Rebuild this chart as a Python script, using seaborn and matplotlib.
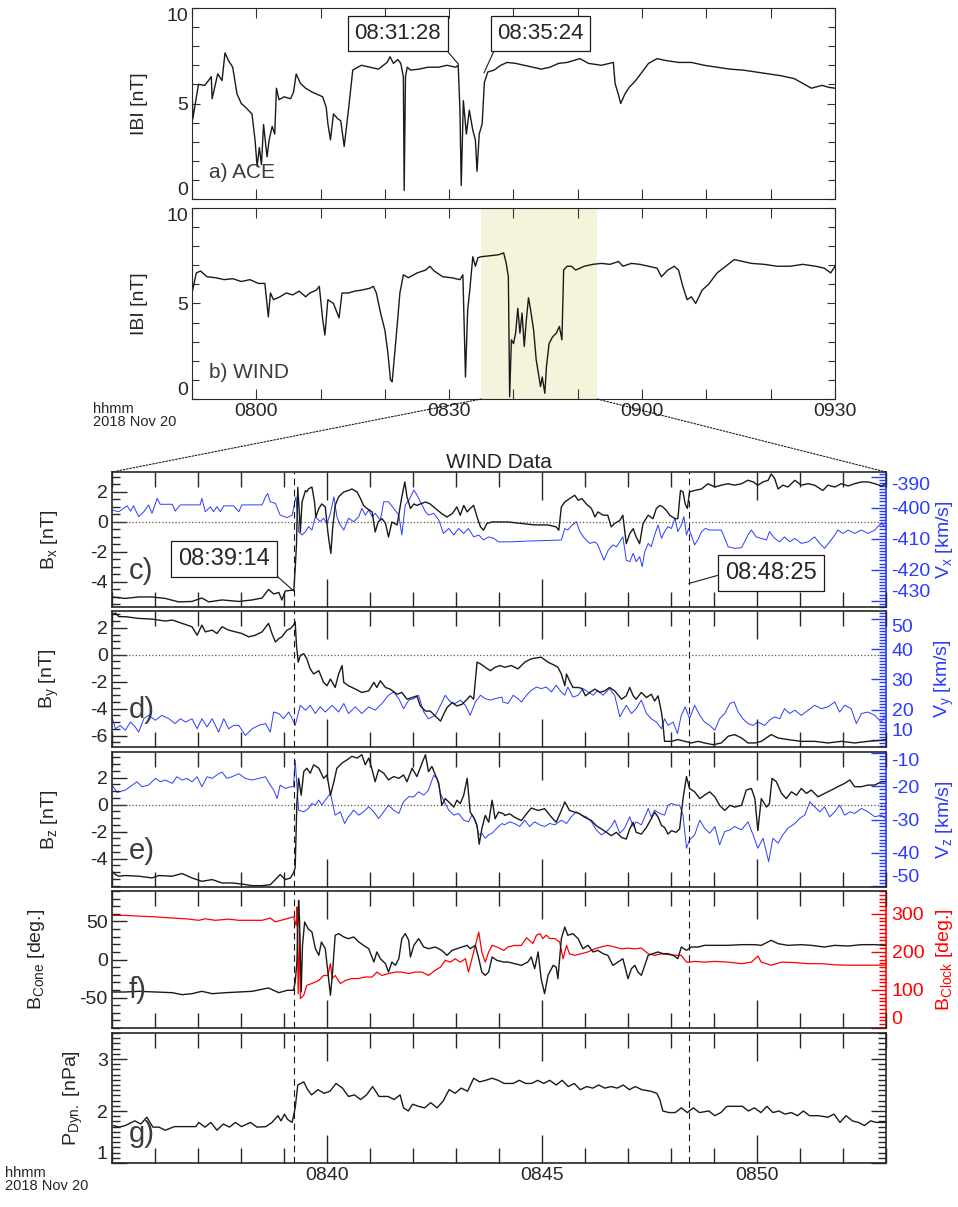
import numpy as np
import pandas as pd
import matplotlib
matplotlib.use("Agg")
import matplotlib.pyplot as plt
import matplotlib.dates as mdates
from matplotlib.ticker import MultipleLocator, FixedLocator
from matplotlib.patches import ConnectionPatch
import seaborn as sns

# ---------------- data ----------------
# panels a/b : minutes after 07:50 UT, |B| in nT
ace_min = [0.00, 0.13, 1.00, 2.00, 3.00, 3.13, 4.00, 4.67, 5.13, 5.67,
           6.33, 7.00, 7.67, 8.33, 9.33, 9.80, 10.13, 10.47, 10.80, 11.13,
           11.67, 12.00, 12.47, 12.87, 13.13, 13.53, 14.33, 15.33, 15.80, 16.20,
           16.87, 17.67, 18.67, 19.67, 20.33, 20.87, 21.13, 21.53, 22.00, 22.67,
           23.13, 23.67, 24.33, 25.00, 26.33, 27.67, 29.00, 30.33, 30.80, 31.33,
           32.00, 32.47, 32.87, 33.00, 33.20, 33.47, 34.00, 35.33, 36.67, 38.33,
           39.67, 41.00, 41.40, 41.67, 41.87, 42.20, 42.67, 43.13, 43.67, 44.07,
           44.33, 44.67, 45.13, 45.47, 46.00, 47.00, 48.00, 49.00, 50.33, 51.67,
           53.00, 54.33, 55.67, 57.00, 58.33, 60.33, 61.67, 63.67, 65.53, 65.80,
           66.33, 66.67, 67.33, 68.00, 69.00, 70.00, 71.00, 72.33, 73.67, 75.67,
           77.67, 79.67, 81.67, 83.67, 85.67, 87.67, 89.67, 91.67, 93.67, 95.00,
           96.33, 98.00, 99.00, 100.00]
ace_b = [5.9, 4.2, 6.0, 5.95, 6.4, 5.25, 6.55, 6.2, 7.65, 7.25,
         6.9, 5.5, 5.0, 4.8, 4.45, 3.1, 1.7, 2.7, 1.8, 3.9,
         2.2, 3.1, 3.8, 3.4, 5.8, 5.2, 5.35, 5.25, 5.6, 6.55,
         6.05, 5.8, 5.6, 5.45, 5.35, 4.8, 3.95, 3.1, 4.45, 4.2,
         4.1, 2.75, 4.65, 6.75, 7.0, 6.9, 6.8, 7.15, 7.45, 7.1,
         7.3, 7.1, 6.4, 0.45, 6.4, 6.9, 6.75, 6.8, 6.9, 6.9,
         7.0, 6.9, 7.0, 4.65, 0.7, 5.15, 3.4, 4.65, 3.6, 3.1,
         1.45, 3.4, 3.95, 6.1, 6.65, 6.75, 7.0, 7.15, 7.1, 7.0,
         6.9, 6.8, 6.9, 7.1, 7.15, 7.35, 7.1, 7.0, 7.15, 6.05,
         5.45, 5.0, 5.5, 5.85, 6.2, 6.65, 7.1, 7.35, 7.25, 7.15,
         7.15, 7.0, 6.9, 6.8, 6.75, 6.65, 6.55, 6.45, 6.3, 6.05,
         5.8, 5.95, 5.85, 5.8]

wind_min = [0.00, 0.67, 1.33, 2.33, 3.67, 5.00, 6.33, 7.67, 9.00, 10.33,
            11.33, 11.87, 12.20, 12.67, 13.67, 14.67, 15.67, 16.67, 17.67, 18.33,
            19.33, 19.80, 20.33, 20.67, 21.13, 22.00, 22.87, 23.33, 24.33, 25.33,
            26.33, 27.67, 28.20, 28.67, 29.33, 30.00, 30.47, 30.87, 31.13, 31.87,
            32.33, 32.87, 33.67, 35.00, 36.33, 37.00, 37.67, 39.00, 40.33, 41.67,
            42.13, 42.53, 42.87, 43.20, 43.67, 44.07, 44.47, 45.00, 46.33, 47.67,
            48.47, 48.87, 49.20, 49.40, 49.67, 50.00, 50.33, 50.67, 51.00, 51.33,
            51.67, 52.00, 52.33, 52.67, 53.13, 53.53, 53.87, 54.20, 54.47, 54.87,
            55.13, 55.53, 56.07, 56.67, 57.13, 57.53, 57.80, 58.33, 59.00, 59.67,
            61.00, 62.33, 63.67, 65.00, 66.33, 67.00, 68.33, 69.67, 71.00, 72.33,
            73.00, 74.00, 75.00, 75.67, 76.33, 77.00, 77.67, 78.33, 79.33, 80.33,
            81.67, 83.00, 84.33, 85.67, 87.00, 89.00, 91.00, 93.00, 95.00, 97.00,
            98.33, 99.33, 100.00]
wind_b = [5.55, 6.6, 6.7, 6.4, 6.35, 6.25, 6.3, 6.15, 6.25, 6.05,
          6.05, 4.3, 5.55, 5.2, 5.35, 5.55, 5.45, 5.65, 5.35, 5.55,
          5.7, 5.9, 4.15, 3.35, 5.2, 5.0, 4.25, 5.55, 5.55, 5.65,
          5.7, 5.8, 5.9, 5.55, 4.5, 3.6, 2.4, 1.0, 0.9, 3.7,
          5.55, 6.5, 6.35, 6.6, 6.75, 6.95, 6.7, 6.4, 6.35, 6.25,
          6.5, 1.15, 4.65, 5.7, 7.45, 6.95, 7.4, 7.45, 7.5, 7.55,
          7.65, 7.1, 6.4, 0.12, 3.1, 2.9, 3.45, 4.75, 3.45, 4.5,
          2.75, 4.15, 5.3, 4.65, 3.6, 2.05, 1.35, 0.65, 1.15, 0.3,
          1.7, 2.9, 3.25, 3.45, 3.8, 3.1, 6.75, 6.95, 6.95, 6.75,
          6.95, 7.05, 7.1, 7.05, 7.2, 6.95, 7.1, 7.05, 6.95, 6.85,
          6.4, 6.75, 6.95, 6.75, 5.9, 5.2, 5.35, 5.0, 5.7, 6.0,
          6.6, 6.95, 7.3, 7.2, 7.1, 7.05, 6.95, 6.95, 7.05, 6.95,
          6.85, 6.6, 6.95]

# panels c-g : minutes after 08:35 UT
bx_min = [0.00, 0.31, 0.62, 0.93, 1.24, 1.55, 1.86, 2.09, 2.25, 2.56,
          2.95, 3.26, 3.49, 3.64, 3.76, 3.88, 3.95, 4.03, 4.19, 4.23,
          4.26, 4.29, 4.32, 4.36, 4.38, 4.42, 4.50, 4.53, 4.57, 4.65,
          4.71, 4.74, 4.81, 4.88, 4.96, 5.02, 5.05, 5.09, 5.13, 5.19,
          5.27, 5.39, 5.50, 5.58, 5.70, 5.78, 5.85, 5.93, 6.05, 6.12,
          6.19, 6.28, 6.36, 6.43, 6.51, 6.63, 6.74, 6.81, 6.86, 6.94,
          7.02, 7.09, 7.17, 7.29, 7.40, 7.52, 7.67, 7.79, 7.91, 8.02,
          8.10, 8.18, 8.26, 8.33, 8.41, 8.49, 8.57, 8.64, 8.72, 8.84,
          8.99, 9.21, 9.52, 9.83, 10.14, 10.33, 10.39, 10.45, 10.53, 10.64,
          10.76, 10.84, 10.93, 11.03, 11.15, 11.23, 11.30, 11.42, 11.53, 11.61,
          11.69, 11.81, 11.88, 11.96, 12.04, 12.12, 12.19, 12.27, 12.35, 12.47,
          12.58, 12.66, 12.74, 12.81, 12.89, 12.97, 13.09, 13.16, 13.22, 13.28,
          13.33, 13.38, 13.43, 13.55, 13.71, 13.86, 14.02, 14.17, 14.33, 14.48,
          14.64, 14.79, 14.91, 15.02, 15.14, 15.26, 15.33, 15.41, 15.49, 15.60,
          15.72, 15.88, 16.03, 16.19, 16.34, 16.53, 16.65, 16.81, 16.96, 17.12,
          17.27, 17.43, 17.58, 17.74, 17.89, 17.98]
bx_nt = [-5.0, -5.1, -5.0, -5.0, -5.1, -5.33, -5.3, -5.07, -5.33, -5.2,
         -5.3, -5.2, -5.07, -4.5, -4.8, -4.7, -5.2, -4.6, -4.55, -4.5,
         -3.1, -1.55, 2.3, 0.45, -0.67, 1.33, 2.1, 2.0, 2.2, 2.33,
         1.33, 0.33, 0.9, 1.2, 1.0, -0.67, -1.33, -2.1, -0.45, 1.1,
         1.67, 2.0, 2.1, 2.2, 2.0, 1.55, 1.1, 0.9, 0.67, -0.67,
         0.0, 0.22, -0.1, -1.0, 0.0, -0.2, 1.67, 2.67, 1.67, 0.9,
         1.2, 1.1, 1.2, 1.33, 1.2, 0.9, 0.55, 0.33, 0.55, 1.0,
         0.45, 1.1, 0.67, 0.9, 1.1, 0.33, -0.33, -0.55, -0.1, 0.0,
         0.0, 0.0, -0.1, -0.2, -0.2, -0.33, -0.55, 1.0, 1.33, 1.55,
         1.78, 1.45, 1.55, 1.2, 0.9, 0.33, 0.67, 0.45, 0.45, -0.33,
         -0.1, 0.1, 0.45, -1.45, -0.78, -0.45, -1.0, -1.45, -0.1, 0.45,
         0.22, 0.9, 1.1, 1.0, 0.78, 0.45, 0.22, 0.22, 2.1, 2.0,
         1.2, 0.9, 2.0, 2.1, 2.2, 2.55, 2.33, 2.45, 2.55, 2.45,
         2.55, 2.78, 2.67, 2.45, 2.67, 2.78, 3.2, 2.9, 2.2, 2.45,
         2.33, 2.78, 2.45, 2.55, 2.45, 2.1, 2.45, 2.33, 2.55, 2.4,
         2.55, 2.67, 2.67, 2.55, 2.4, 2.5]

vx_min = [0.00, 0.16, 0.27, 0.35, 0.43, 0.50, 0.62, 0.74, 0.85, 0.93,
          1.05, 1.12, 1.40, 1.47, 1.59, 2.05, 2.09, 2.17, 2.29, 2.36,
          2.44, 2.52, 2.60, 2.83, 2.95, 3.02, 3.49, 3.57, 3.62, 3.68,
          3.80, 3.91, 4.07, 4.19, 4.25, 4.28, 4.34, 4.42, 4.50, 4.57,
          4.65, 4.73, 4.84, 4.92, 5.00, 5.08, 5.16, 5.23, 5.31, 5.39,
          5.50, 5.62, 5.74, 5.81, 5.89, 5.97, 6.05, 6.12, 6.24, 6.32,
          6.43, 6.55, 6.67, 6.74, 6.82, 6.91, 7.02, 7.09, 7.17, 7.29,
          7.36, 7.48, 7.60, 7.71, 7.83, 7.95, 8.06, 8.18, 8.29, 8.41,
          8.53, 8.64, 8.76, 8.88, 8.99, 9.05, 9.29, 9.67, 10.06, 10.45,
          10.53, 10.60, 10.70, 10.80, 10.88, 10.99, 11.11, 11.23, 11.30, 11.44,
          11.54, 11.65, 11.73, 11.81, 11.88, 11.96, 12.04, 12.12, 12.19, 12.27,
          12.33, 12.39, 12.47, 12.54, 12.62, 12.70, 12.78, 12.85, 12.93, 13.01,
          13.09, 13.16, 13.24, 13.30, 13.36, 13.41, 13.47, 13.55, 13.64, 13.71,
          13.80, 13.90, 14.17, 14.33, 14.48, 14.64, 14.79, 14.87, 14.98, 15.10,
          15.22, 15.29, 15.41, 15.53, 15.64, 15.76, 15.88, 16.03, 16.19, 16.34,
          16.46, 16.57, 16.69, 16.81, 16.88, 17.00, 17.12, 17.27, 17.43, 17.58,
          17.74, 17.81, 17.89, 17.98]
vx_kms = [-400.75, -401.3, -400.2, -399.4, -401.1, -399.4, -402.9, -401.3, -399.1, -401.8,
          -397.0, -398.9, -398.9, -401.1, -399.1, -399.1, -397.0, -401.3, -399.7, -401.3,
          -399.7, -401.3, -399.4, -399.4, -401.3, -399.1, -399.1, -396.5, -395.4, -398.1,
          -398.6, -402.4, -403.2, -402.4, -398.1, -396.5, -407.7, -408.8, -407.7, -406.1,
          -407.2, -402.9, -404.5, -403.4, -405.1, -401.8, -396.5, -402.9, -405.6, -407.2,
          -403.4, -404.5, -402.9, -400.2, -402.4, -400.75, -402.9, -401.8, -404.0, -398.1,
          -398.1, -400.2, -402.4, -408.8, -399.1, -397.5, -394.3, -395.9, -398.1, -401.3,
          -402.4, -401.8, -404.0, -408.3, -406.7, -408.8, -406.7, -408.3, -406.7, -409.4,
          -408.8, -410.4, -409.4, -409.9, -411.0, -411.0, -411.0, -410.75, -410.6, -410.4,
          -406.7, -407.2, -405.6, -404.5, -407.7, -409.9, -411.5, -411.0, -412.0, -416.9,
          -413.7, -412.0, -412.6, -411.0, -409.4, -416.9, -417.4, -414.7, -417.4, -415.8,
          -419.0, -414.2, -411.5, -412.6, -408.8, -405.6, -409.9, -407.7, -406.1, -406.7,
          -403.4, -407.7, -405.6, -402.9, -408.8, -406.7, -408.8, -412.0, -409.9, -407.7,
          -406.7, -407.2, -407.2, -412.6, -413.1, -412.9, -408.8, -407.2, -409.4, -409.9,
          -410.4, -407.7, -409.9, -411.0, -409.4, -411.0, -409.9, -411.5, -411.0, -409.4,
          -411.5, -413.1, -411.0, -408.8, -407.2, -408.3, -407.2, -408.3, -407.2, -408.3,
          -407.2, -406.1, -405.1, -406.1]

by_min = [0.00, 0.08, 0.16, 0.31, 0.62, 0.93, 1.24, 1.40, 1.63, 1.86,
          1.98, 2.09, 2.17, 2.33, 2.44, 2.56, 2.71, 2.87, 3.02, 3.18,
          3.33, 3.49, 3.64, 3.72, 3.80, 3.88, 3.95, 4.07, 4.15, 4.22,
          4.26, 4.29, 4.33, 4.38, 4.46, 4.53, 4.61, 4.69, 4.81, 4.92,
          5.00, 5.08, 5.19, 5.27, 5.35, 5.39, 5.50, 5.66, 5.81, 5.97,
          6.09, 6.16, 6.24, 6.36, 6.47, 6.63, 6.74, 6.86, 6.98, 7.09,
          7.17, 7.29, 7.40, 7.52, 7.64, 7.71, 7.79, 7.91, 8.02, 8.14,
          8.26, 8.33, 8.41, 8.49, 8.57, 8.68, 8.80, 8.91, 9.03, 9.13,
          9.29, 9.44, 9.60, 9.75, 9.98, 10.14, 10.30, 10.37, 10.45, 10.53,
          10.57, 10.64, 10.72, 10.84, 10.93, 11.01, 11.11, 11.23, 11.34, 11.46,
          11.57, 11.69, 11.85, 11.96, 12.04, 12.12, 12.19, 12.31, 12.43, 12.54,
          12.62, 12.70, 12.78, 12.81, 12.85, 13.01, 13.16, 13.32, 13.47, 13.63,
          13.78, 13.98, 14.17, 14.33, 14.48, 14.64, 14.79, 14.95, 15.10, 15.33,
          15.49, 15.72, 16.03, 16.34, 16.65, 16.96, 17.27, 17.58, 17.89, 17.98]
by_nt = [2.95, 3.1, 2.83, 2.83, 2.7, 2.65, 2.5, 2.58, 2.33, 2.08,
         1.45, 2.2, 1.7, 1.83, 1.58, 2.08, 1.83, 1.7, 1.58, 1.33,
         1.45, 1.7, 2.33, 1.58, 0.95, 1.2, 1.33, 1.83, 1.95, 2.2,
         2.45, 0.7, -0.55, -0.05, 0.08, -0.3, -1.05, -1.43, -1.18, -2.05,
         -2.3, -1.8, -2.43, -1.43, -0.8, -2.05, -2.3, -2.55, -2.8, -2.68,
         -2.05, -2.43, -1.93, -2.43, -2.55, -2.93, -2.8, -3.3, -3.18, -3.05,
         -3.8, -4.18, -4.18, -4.55, -4.93, -4.43, -3.93, -3.55, -3.8, -3.68,
         -3.3, -3.05, -3.3, -0.55, -0.68, -0.93, -1.18, -0.93, -0.8, -0.93,
         -0.8, -1.05, -0.55, -0.3, -0.18, -0.55, -0.8, -0.93, -1.43, -2.3,
         -1.43, -1.93, -2.43, -2.43, -2.5, -3.05, -2.8, -2.55, -2.8, -2.68,
         -2.43, -2.68, -3.3, -3.05, -2.43, -3.05, -3.3, -2.8, -3.18, -2.93,
         -3.43, -3.05, -4.3, -5.05, -6.43, -6.43, -6.3, -6.43, -6.55, -6.43,
         -6.55, -6.68, -6.55, -6.05, -5.93, -6.18, -6.55, -6.55, -6.43, -5.93,
         -6.18, -6.3, -6.43, -6.43, -6.55, -6.43, -6.55, -6.43, -6.35, -6.3]

vy_min = [0.00, 0.08, 0.19, 0.31, 0.43, 0.54, 0.62, 0.74, 0.85, 1.01,
          1.16, 1.32, 1.47, 1.59, 1.71, 1.86, 1.98, 2.09, 2.21, 2.33,
          2.48, 2.60, 2.71, 2.83, 2.95, 3.10, 3.26, 3.41, 3.57, 3.68,
          3.76, 3.88, 3.99, 4.11, 4.19, 4.26, 4.38, 4.50, 4.61, 4.73,
          4.84, 4.96, 5.12, 5.27, 5.39, 5.50, 5.66, 5.81, 5.97, 6.12,
          6.28, 6.43, 6.55, 6.67, 6.78, 6.90, 7.02, 7.13, 7.25, 7.36,
          7.52, 7.64, 7.75, 7.87, 7.98, 8.10, 8.22, 8.33, 8.45, 8.57,
          8.68, 8.80, 8.91, 9.07, 9.09, 9.21, 9.33, 9.44, 9.52, 9.64,
          9.75, 9.87, 9.98, 10.10, 10.22, 10.33, 10.45, 10.53, 10.60, 10.72,
          10.84, 10.95, 11.07, 11.19, 11.30, 11.42, 11.57, 11.69, 11.81, 11.96,
          12.08, 12.19, 12.31, 12.43, 12.54, 12.66, 12.78, 12.85, 12.93, 13.05,
          13.15, 13.24, 13.33, 13.43, 13.55, 13.67, 13.78, 13.90, 14.02, 14.13,
          14.25, 14.37, 14.47, 14.56, 14.67, 14.79, 14.91, 15.02, 15.18, 15.29,
          15.41, 15.53, 15.64, 15.76, 15.88, 16.03, 16.19, 16.34, 16.50, 16.65,
          16.81, 16.92, 17.04, 17.19, 17.31, 17.43, 17.58, 17.74, 17.89, 17.98]
vy_kms = [17.7, 13.8, 14.9, 13.3, 16.0, 14.4, 12.7, 17.1, 18.2, 16.6,
          18.2, 17.1, 15.5, 17.1, 16.0, 17.1, 13.8, 17.1, 14.4, 17.1,
          12.7, 17.1, 13.8, 14.9, 14.9, 11.6, 13.8, 14.9, 15.5, 12.7,
          19.3, 18.8, 17.1, 19.3, 17.1, 14.9, 21.5, 19.9, 21.5, 18.8,
          21.0, 19.3, 21.5, 19.3, 22.1, 18.8, 21.0, 18.8, 21.0, 19.9,
          22.1, 24.8, 25.9, 23.7, 20.4, 23.2, 23.7, 24.8, 19.3, 17.1,
          18.2, 21.5, 24.8, 22.6, 22.1, 23.2, 21.5, 18.2, 22.6, 24.8,
          23.7, 23.2, 23.7, 24.2, 22.6, 22.1, 24.8, 23.7, 22.6, 24.8,
          26.4, 27.5, 27.0, 27.5, 25.9, 28.1, 25.9, 24.8, 27.5, 24.2,
          24.8, 27.0, 25.9, 24.8, 26.4, 24.8, 27.0, 24.8, 17.7, 21.5,
          18.8, 20.4, 23.2, 18.8, 17.1, 16.0, 13.8, 17.1, 14.9, 16.0,
          12.2, 18.2, 21.0, 17.1, 21.5, 18.2, 16.0, 14.9, 13.3, 17.1,
          18.8, 22.1, 22.6, 19.3, 17.1, 15.5, 14.9, 16.0, 14.9, 16.6,
          17.7, 17.1, 20.4, 18.8, 19.9, 18.2, 19.9, 21.5, 20.4, 21.0,
          22.6, 19.3, 21.5, 20.4, 15.5, 18.8, 19.3, 18.2, 16.0, 18.2]

bz_min = [0.00, 0.08, 0.16, 0.31, 0.62, 0.93, 1.09, 1.40, 1.63, 1.86,
          2.09, 2.33, 2.56, 2.79, 3.02, 3.26, 3.49, 3.68, 3.80, 3.91,
          4.03, 4.15, 4.22, 4.26, 4.30, 4.34, 4.40, 4.46, 4.53, 4.61,
          4.69, 4.81, 4.92, 5.00, 5.08, 5.16, 5.23, 5.35, 5.47, 5.58,
          5.70, 5.81, 5.89, 5.97, 6.05, 6.12, 6.20, 6.32, 6.43, 6.55,
          6.67, 6.78, 6.86, 6.98, 7.09, 7.21, 7.29, 7.36, 7.44, 7.52,
          7.60, 7.67, 7.75, 7.87, 7.95, 8.02, 8.10, 8.18, 8.26, 8.33,
          8.41, 8.49, 8.54, 8.60, 8.68, 8.76, 8.84, 8.91, 8.99, 9.11,
          9.13, 9.25, 9.36, 9.52, 9.64, 9.75, 9.91, 10.06, 10.22, 10.33,
          10.45, 10.53, 10.64, 10.76, 10.88, 10.99, 11.15, 11.26, 11.38, 11.50,
          11.61, 11.73, 11.85, 11.96, 12.04, 12.12, 12.19, 12.31, 12.43, 12.54,
          12.62, 12.70, 12.78, 12.85, 12.93, 13.01, 13.12, 13.20, 13.28, 13.36,
          13.43, 13.55, 13.67, 13.78, 13.90, 14.02, 14.13, 14.25, 14.37, 14.48,
          14.64, 14.75, 14.87, 14.95, 15.02, 15.10, 15.22, 15.29, 15.35, 15.45,
          15.57, 15.68, 15.80, 15.92, 16.03, 16.15, 16.26, 16.42, 16.57, 16.73,
          16.88, 17.04, 17.16, 17.27, 17.43, 17.58, 17.74, 17.89, 17.98]
bz_nt = [-4.93, -5.18, -5.3, -5.25, -5.3, -5.43, -5.25, -5.3, -5.1, -5.43,
         -5.68, -5.55, -5.8, -5.8, -5.88, -6.0, -6.0, -5.93, -5.55, -5.18,
         -5.55, -5.43, -5.05, -4.68, 0.2, 1.95, 0.7, 2.45, 2.7, 2.33,
         2.95, 2.7, 1.95, 2.2, 0.7, 1.7, 2.7, 3.08, 3.33, 3.58,
         3.45, 3.7, 2.95, 3.45, 2.58, 1.7, 2.58, 2.33, 1.83, 2.08,
         1.95, 2.2, 1.7, 2.7, 2.08, 3.08, 3.7, 2.45, 2.83, 2.2,
         1.58, -0.05, 0.45, 0.08, -0.18, 0.33, 0.08, 0.7, 1.95, -0.55,
         -0.93, -1.55, -2.93, -1.8, -0.8, -1.3, 0.33, -1.05, -0.55, -0.68,
         -0.8, -0.68, -0.93, -1.18, -0.68, -0.25, -0.43, -0.3, -0.93, -1.3,
         -0.43, 0.2, -0.43, -0.55, -0.68, -0.93, -1.18, -1.55, -1.8, -2.05,
         -2.3, -2.05, -2.43, -2.55, -1.8, -1.3, -2.05, -2.18, -1.68, -1.05,
         -0.55, -0.93, -1.55, -1.68, -2.18, -1.93, -2.05, -1.8, 0.45, 2.08,
         1.2, 0.95, 0.45, 0.7, 0.95, 0.58, -0.05, -0.43, -0.05, -0.18,
         -0.05, 1.08, 1.2, 0.45, -1.93, 0.45, -0.18, 0.08, 1.95, 1.7,
         0.83, 0.45, 0.95, 0.7, 1.2, 0.83, 1.08, 0.58, 0.83, 1.08,
         1.33, 1.58, 1.83, 1.33, 1.33, 1.45, 1.45, 1.7, 1.7]

vz_min = [0.00, 0.12, 0.31, 0.47, 0.58, 0.70, 0.85, 1.01, 1.12, 1.24,
          1.40, 1.51, 1.63, 1.74, 1.86, 1.98, 2.09, 2.21, 2.33, 2.48,
          2.56, 2.67, 2.79, 2.95, 3.10, 3.26, 3.41, 3.57, 3.68, 3.76,
          3.84, 3.91, 4.03, 4.15, 4.22, 4.26, 4.30, 4.34, 4.46, 4.57,
          4.65, 4.73, 4.81, 4.88, 4.96, 5.08, 5.19, 5.31, 5.41, 5.50,
          5.62, 5.74, 5.85, 5.97, 6.09, 6.20, 6.32, 6.43, 6.55, 6.67,
          6.78, 6.90, 7.02, 7.13, 7.25, 7.36, 7.48, 7.56, 7.64, 7.71,
          7.83, 7.95, 8.06, 8.18, 8.29, 8.37, 8.45, 8.53, 8.60, 8.68,
          8.76, 8.84, 8.95, 9.07, 9.13, 9.25, 9.36, 9.48, 9.60, 9.71,
          9.83, 9.95, 10.06, 10.18, 10.30, 10.45, 10.57, 10.68, 10.80, 10.91,
          11.03, 11.15, 11.26, 11.38, 11.50, 11.61, 11.69, 11.81, 11.92, 12.04,
          12.12, 12.19, 12.31, 12.39, 12.47, 12.54, 12.62, 12.74, 12.85, 12.93,
          13.01, 13.12, 13.20, 13.28, 13.36, 13.43, 13.55, 13.67, 13.78, 13.90,
          14.02, 14.13, 14.25, 14.37, 14.48, 14.64, 14.79, 14.91, 15.02, 15.14,
          15.27, 15.37, 15.49, 15.60, 15.72, 15.88, 15.99, 16.11, 16.23, 16.34,
          16.46, 16.57, 16.69, 16.81, 16.92, 17.04, 17.16, 17.27, 17.43, 17.58,
          17.74, 17.89, 17.98]
vz_kms = [-19.7, -21.9, -21.2, -19.7, -18.7, -20.2, -19.7, -17.7, -18.7, -18.2,
          -19.2, -17.2, -18.2, -17.7, -18.7, -17.2, -20.2, -17.2, -17.7, -16.3,
          -15.8, -17.7, -17.2, -16.3, -17.7, -18.2, -17.7, -17.2, -19.7, -21.2,
          -23.7, -19.7, -20.7, -20.2, -20.2, -12.3, -19.7, -27.2, -27.7, -26.7,
          -25.2, -25.7, -24.2, -25.7, -24.2, -22.2, -28.7, -27.7, -31.2, -29.2,
          -27.2, -28.7, -27.7, -26.2, -27.7, -29.7, -27.7, -25.7, -27.2, -28.2,
          -24.7, -23.2, -23.2, -21.7, -22.7, -21.2, -16.8, -17.7, -22.2, -24.2,
          -27.2, -28.7, -28.2, -30.2, -30.7, -28.7, -30.2, -34.6, -34.1, -35.6,
          -34.6, -34.1, -32.6, -31.2, -31.6, -30.7, -31.2, -32.1, -30.2, -32.1,
          -30.7, -31.6, -32.1, -31.2, -31.6, -30.2, -31.2, -29.2, -27.7, -28.7,
          -29.2, -30.7, -33.1, -34.6, -33.6, -32.1, -30.2, -34.1, -32.6, -29.2,
          -32.1, -30.7, -31.6, -29.2, -26.7, -29.2, -27.2, -28.2, -28.7, -25.7,
          -25.2, -25.7, -25.7, -28.7, -38.6, -36.1, -34.6, -30.2, -32.6, -34.1,
          -32.1, -37.6, -33.6, -33.1, -32.1, -33.1, -30.7, -34.6, -38.6, -35.6,
          -42.6, -35.6, -37.1, -34.6, -32.6, -31.2, -29.7, -28.7, -24.7, -26.2,
          -27.7, -26.2, -29.2, -27.7, -25.7, -28.7, -27.7, -28.2, -26.7, -27.7,
          -29.2, -28.7, -29.7]

cone_min = [0.00, 0.31, 0.62, 1.01, 1.40, 1.63, 1.86, 2.09, 2.33, 2.64,
            2.95, 3.26, 3.64, 3.88, 4.07, 4.22, 4.26, 4.30, 4.34, 4.36,
            4.40, 4.43, 4.48, 4.56, 4.65, 4.73, 4.81, 4.87, 4.96, 5.02,
            5.08, 5.13, 5.19, 5.27, 5.39, 5.50, 5.62, 5.74, 5.85, 5.97,
            6.09, 6.16, 6.24, 6.36, 6.43, 6.51, 6.59, 6.67, 6.74, 6.82,
            6.90, 6.94, 7.02, 7.13, 7.25, 7.36, 7.52, 7.67, 7.79, 7.91,
            8.02, 8.14, 8.26, 8.33, 8.45, 8.53, 8.60, 8.68, 8.76, 8.84,
            8.95, 9.11, 9.21, 9.36, 9.52, 9.67, 9.75, 9.83, 9.91, 9.98,
            10.06, 10.14, 10.26, 10.33, 10.37, 10.45, 10.53, 10.60, 10.72, 10.84,
            10.95, 11.07, 11.19, 11.30, 11.42, 11.53, 11.65, 11.77, 11.88, 11.96,
            12.00, 12.08, 12.16, 12.23, 12.31, 12.39, 12.47, 12.58, 12.70, 12.81,
            12.93, 13.05, 13.16, 13.24, 13.36, 13.47, 13.63, 13.78, 14.02, 14.33,
            14.64, 14.95, 15.10, 15.33, 15.49, 15.72, 16.03, 16.26, 16.57, 16.81,
            17.12, 17.43, 17.74, 17.98]
cone_deg = [-42.7, -42.7, -41.8, -42.7, -43.6, -46.2, -44.9, -41.8, -44.9, -43.6,
            -42.7, -41.8, -37.4, -43.6, -40.5, -40.5, -29.6, -3.3, 77.7, 53.7,
            -42.7, 18.6, 49.3, 40.5, 36.1, 14.2, 5.5, 23.0, 14.2, -16.4,
            -47.0, -16.4, 31.8, 34.0, 29.6, 27.4, 29.6, 23.0, 18.6, 14.2,
            -3.3, 9.9, 1.1, -5.5, -16.4, -3.3, -7.7, 1.1, 27.4, 34.0,
            25.2, 3.3, 18.6, 27.4, 16.4, 14.2, 16.4, 12.0, 5.5, 12.0,
            14.2, 16.4, 18.6, 14.2, 18.6, 1.1, -16.4, -20.8, -16.4, 3.3,
            -1.1, -3.3, -3.3, -5.5, -7.7, -3.3, 3.3, -12.0, 9.9, -25.2,
            -44.9, -20.8, -7.7, -9.9, -25.2, 27.4, 42.7, 31.8, 34.0, 27.4,
            14.2, 18.6, 9.9, 12.0, 7.7, 5.5, -7.7, -3.3, 1.1, -16.4,
            -25.2, -12.0, -7.7, -16.4, -20.8, -7.7, 5.5, 7.7, 9.9, 7.7,
            7.7, 5.5, 1.1, 16.4, 12.0, 16.4, 16.4, 18.6, 18.6, 18.6,
            19.5, 19.5, 18.6, 25.2, 20.8, 18.6, 19.5, 18.6, 16.4, 18.6,
            17.7, 19.5, 19.5, 18.6]

clock_min = [0.00, 0.31, 0.62, 1.01, 1.40, 1.71, 2.02, 2.17, 2.40, 2.71,
             2.95, 3.26, 3.49, 3.68, 3.80, 4.03, 4.22, 4.28, 4.30, 4.33,
             4.36, 4.38, 4.46, 4.53, 4.65, 4.81, 4.92, 5.02, 5.08, 5.12,
             5.19, 5.31, 5.43, 5.58, 5.74, 5.89, 6.05, 6.16, 6.28, 6.43,
             6.59, 6.74, 6.90, 7.05, 7.21, 7.36, 7.52, 7.64, 7.75, 7.87,
             7.98, 8.10, 8.22, 8.29, 8.37, 8.45, 8.53, 8.60, 8.68, 8.76,
             8.84, 8.95, 9.11, 9.21, 9.36, 9.52, 9.64, 9.71, 9.79, 9.87,
             9.95, 10.02, 10.10, 10.18, 10.30, 10.41, 10.49, 10.57, 10.64, 10.76,
             10.91, 11.07, 11.23, 11.38, 11.53, 11.69, 11.85, 12.00, 12.16, 12.31,
             12.47, 12.62, 12.78, 12.93, 13.12, 13.24, 13.36, 13.43, 13.55, 13.78,
             14.02, 14.33, 14.64, 14.87, 15.02, 15.10, 15.33, 15.57, 15.88, 16.19,
             16.50, 16.81, 17.12, 17.43, 17.74, 17.98]
clock_deg = [296, 296, 294, 292, 289, 287, 283, 287, 283, 286,
             283, 283, 283, 289, 279, 286, 292, 270, 318, 90,
             252, 77, 86, 112, 117, 125, 138, 138, 169, 130,
             138, 117, 125, 130, 130, 134, 134, 147, 138, 143,
             147, 147, 143, 147, 147, 138, 152, 160, 178, 173,
             182, 173, 182, 147, 182, 217, 252, 200, 173, 200,
             217, 213, 204, 213, 217, 217, 237, 230, 222, 244,
             248, 235, 244, 235, 235, 226, 182, 217, 195, 191,
             195, 200, 208, 213, 217, 213, 208, 210, 208, 210,
             195, 191, 195, 193, 191, 191, 173, 173, 175, 173,
             175, 173, 169, 173, 189, 173, 165, 173, 172, 169,
             169, 166, 165, 165, 165, 165]

pdyn_min = [0.03, 0.17, 0.31, 0.53, 0.67, 0.81, 0.95, 1.09, 1.24, 1.45,
            1.95, 2.02, 2.16, 2.30, 2.44, 2.59, 2.73, 2.87, 3.01, 3.22,
            3.37, 3.58, 3.72, 3.86, 3.93, 4.01, 4.08, 4.19, 4.26, 4.32,
            4.39, 4.46, 4.55, 4.64, 4.79, 4.93, 5.07, 5.21, 5.36, 5.50,
            5.64, 5.78, 5.92, 6.06, 6.21, 6.42, 6.56, 6.70, 6.78, 6.89,
            6.99, 7.13, 7.27, 7.41, 7.56, 7.70, 7.84, 7.98, 8.12, 8.27,
            8.41, 8.55, 8.69, 8.84, 8.98, 9.12, 9.33, 9.47, 9.62, 9.76,
            9.90, 10.04, 10.18, 10.33, 10.47, 10.61, 10.75, 10.89, 11.04, 11.18,
            11.32, 11.46, 11.61, 11.75, 11.89, 12.03, 12.17, 12.32, 12.53, 12.67,
            12.74, 12.81, 12.95, 13.10, 13.24, 13.38, 13.52, 13.66, 13.88, 14.02,
            14.16, 14.30, 14.66, 14.80, 14.94, 15.09, 15.23, 15.37, 15.51, 15.65,
            15.80, 15.94, 16.08, 16.22, 16.43, 16.65, 16.79, 16.93, 17.07, 17.22,
            17.36, 17.50, 17.64, 17.78, 17.99]
pdyn_npa = [1.72, 1.69, 1.72, 1.81, 1.75, 1.88, 1.69, 1.69, 1.63, 1.7,
            1.7, 1.78, 1.69, 1.78, 1.63, 1.75, 1.69, 1.78, 1.7, 1.78,
            1.69, 1.7, 1.78, 1.91, 1.81, 1.94, 1.84, 1.78, 2.06, 2.5,
            2.53, 2.56, 2.41, 2.31, 2.41, 2.34, 2.38, 2.53, 2.44, 2.28,
            2.31, 2.22, 2.31, 2.47, 2.28, 2.28, 2.22, 2.31, 2.06, 2.0,
            2.13, 2.09, 2.06, 2.16, 2.06, 2.19, 2.41, 2.34, 2.44, 2.38,
            2.63, 2.56, 2.59, 2.63, 2.59, 2.53, 2.53, 2.59, 2.53, 2.53,
            2.59, 2.53, 2.59, 2.5, 2.59, 2.47, 2.53, 2.41, 2.47, 2.44,
            2.5, 2.44, 2.47, 2.44, 2.5, 2.41, 2.47, 2.41, 2.38, 2.34,
            2.22, 2.0, 1.97, 1.97, 2.06, 1.97, 2.06, 1.97, 2.0, 1.91,
            1.97, 2.09, 2.09, 2.0, 2.06, 1.97, 2.09, 1.97, 2.0, 1.94,
            1.97, 1.91, 2.0, 1.91, 1.91, 1.88, 1.94, 1.78, 1.91, 1.81,
            1.78, 1.72, 1.81, 1.78, 1.78]

# ---------------- times ----------------
DAY = pd.Timestamp("2018-11-20")
TOP_START = DAY + pd.Timedelta(hours=7, minutes=50)
TOP_END = DAY + pd.Timedelta(hours=9, minutes=30)
ZOOM_START = DAY + pd.Timedelta(hours=8, minutes=35)
ZOOM_END = DAY + pd.Timedelta(hours=8, minutes=53)
EVENT1 = DAY + pd.Timedelta(hours=8, minutes=39, seconds=14)
EVENT2 = DAY + pd.Timedelta(hours=8, minutes=48, seconds=25)

BLUE = "#2a3cff"
RED = "#ff0000"
TAGC = "#3c3c3c"

sns.set_theme(style="ticks")
plt.rcParams["font.family"] = ["Liberation Sans", "DejaVu Sans"]
plt.rcParams["mathtext.default"] = "regular"
plt.rcParams["axes.unicode_minus"] = False
plt.rcParams["axes.linewidth"] = 1.0


def series(t0, minutes, values):
    return pd.DataFrame({"time": t0 + pd.to_timedelta(minutes, unit="min"),
                         "value": values})


def draw(ax, t0, minutes, values, color="k", lw=0.8):
    sns.lineplot(data=series(t0, minutes, values), x="time", y="value", ax=ax,
                 color=color, lw=lw, estimator=None, sort=False)
    ax.set_xlabel("")
    ax.set_ylabel("")


def dnum(ts):
    return mdates.date2num(ts)


def pull_in_edge_labels(ax, low=True, high=True):
    # keep the labels at the axis ends inside the frame, as in the original
    ticks = ax.yaxis.get_major_ticks()
    if low:
        ticks[0].label1.set_va("bottom")
        ticks[0].label2.set_va("bottom")
    if high:
        ticks[-1].label1.set_va("top")
        ticks[-1].label2.set_va("top")


fig = plt.figure(figsize=(9.58, 12.07), dpi=100)


def rect(left_px, right_px, top_px, bot_px):
    return [left_px / 958, 1 - bot_px / 1207, (right_px - left_px) / 958,
            (bot_px - top_px) / 1207]


ax_a = fig.add_axes(rect(192, 835, 8, 199))
ax_b = fig.add_axes(rect(192, 835, 208, 399))
ax_c = fig.add_axes(rect(112, 886, 472, 607))
ax_d = fig.add_axes(rect(112, 886, 611, 747))
ax_e = fig.add_axes(rect(112, 886, 752, 887))
ax_f = fig.add_axes(rect(112, 886, 891, 1028))
ax_g = fig.add_axes(rect(112, 886, 1033, 1163))

# ---------------- top panels ----------------
ax_b.axvspan(ZOOM_START, ZOOM_END, color="#f5f3dc", lw=0, zorder=0)
draw(ax_a, TOP_START, ace_min, ace_b, lw=1.0)
draw(ax_b, TOP_START, wind_min, wind_b, lw=1.0)

for ax, tag in [(ax_a, "a) ACE"), (ax_b, "b) WIND")]:
    ax.set_xlim(TOP_START, TOP_END)
    ax.set_ylim(0, 10)
    ax.xaxis.set_major_locator(mdates.MinuteLocator(byminute=[0, 30]))
    ax.xaxis.set_minor_locator(mdates.MinuteLocator(byminute=range(0, 60, 10)))
    ax.xaxis.set_major_formatter(mdates.DateFormatter("%H%M"))
    ax.yaxis.set_major_locator(FixedLocator([0, 5, 10]))
    ax.yaxis.set_minor_locator(MultipleLocator(1))
    ax.tick_params(which="both", direction="in", top=True, right=True,
                   labelsize=14, width=0.8, color="0.2")
    ax.tick_params(axis="x", which="both", length=7, pad=3)
    ax.tick_params(axis="y", which="major", length=6, pad=3)
    ax.tick_params(axis="y", which="minor", length=5)
    ax.set_ylabel("IBI [nT]", fontsize=14, va="center")
    ax.yaxis.set_label_coords(-0.082, 0.5)
    ax.text(0.027, 0.14, tag, transform=ax.transAxes, fontsize=15,
            color=TAGC, va="center", ha="left")
    for sp in ax.spines.values():
        sp.set_linewidth(0.8)
    pull_in_edge_labels(ax)
ax_a.tick_params(axis="x", labelbottom=False)

box = dict(boxstyle="square,pad=0.3", fc="white", ec="k", lw=0.9)
ax_a.annotate("08:31:28",
              xy=(dnum(TOP_START + pd.Timedelta(minutes=41.47)), 7.05),
              xytext=(dnum(TOP_START + pd.Timedelta(minutes=32.0)), 8.67),
              ha="center", va="center", fontsize=16, bbox=box,
              arrowprops=dict(arrowstyle="-", color="k", lw=0.8, relpos=(1, 0),
                              shrinkA=0, shrinkB=0))
ax_a.annotate("08:35:24",
              xy=(dnum(TOP_START + pd.Timedelta(minutes=45.4)), 6.6),
              xytext=(dnum(TOP_START + pd.Timedelta(minutes=54.2)), 8.67),
              ha="center", va="center", fontsize=16, bbox=box,
              arrowprops=dict(arrowstyle="-", color="k", lw=0.8, relpos=(0, 0),
                              shrinkA=0, shrinkB=0))

fig.text(93 / 958, 1 - 402 / 1207, "hhmm\n2018 Nov 20", fontsize=10.5,
         va="top", ha="left", linespacing=0.9)

# ---------------- zoomed panels: curves ----------------
axr_c = ax_c.twinx()
axr_d = ax_d.twinx()
axr_e = ax_e.twinx()
axr_f = ax_f.twinx()

ax_c.axhline(0, color="0.35", lw=0.9, ls=":")
ax_d.axhline(0, color="0.35", lw=0.9, ls=":")
ax_e.axhline(0, color="0.35", lw=0.9, ls=":")

draw(axr_c, ZOOM_START, vx_min, vx_kms, color=BLUE, lw=0.7)
draw(ax_c, ZOOM_START, bx_min, bx_nt, lw=1.0)
draw(axr_d, ZOOM_START, vy_min, vy_kms, color=BLUE, lw=0.7)
draw(ax_d, ZOOM_START, by_min, by_nt, lw=1.0)
draw(axr_e, ZOOM_START, vz_min, vz_kms, color=BLUE, lw=0.7)
draw(ax_e, ZOOM_START, bz_min, bz_nt, lw=1.0)
draw(axr_f, ZOOM_START, clock_min, clock_deg, color=RED, lw=0.9)
draw(ax_f, ZOOM_START, cone_min, cone_deg, lw=1.0)
draw(ax_g, ZOOM_START, pdyn_min, pdyn_npa, lw=1.0)

# ---------------- zoomed panels: axes ----------------
lower = [ax_c, ax_d, ax_e, ax_f, ax_g]
for ax in lower:
    ax.set_xlim(ZOOM_START, ZOOM_END)
    ax.xaxis.set_major_locator(mdates.MinuteLocator(byminute=[40, 45, 50]))
    ax.xaxis.set_minor_locator(mdates.MinuteLocator())
    ax.xaxis.set_major_formatter(mdates.DateFormatter("%H%M"))
    ax.tick_params(axis="x", which="both", direction="in", top=True,
                   labelbottom=False, labelsize=14, width=1.0, pad=3)
    ax.tick_params(axis="x", which="major", length=20)
    ax.tick_params(axis="x", which="minor", length=11)
    ax.tick_params(axis="y", which="both", direction="in", labelsize=14,
                   width=1.0, pad=3)
    ax.tick_params(axis="y", which="major", length=11)
    ax.tick_params(axis="y", which="minor", length=6)
    for sp in ax.spines.values():
        sp.set_linewidth(1.2)
    for ev in (EVENT1, EVENT2):
        ax.axvline(ev, color="k", lw=0.8, ls=(0, (6, 4)), zorder=1)
ax_g.tick_params(axis="x", labelbottom=True)


def right_axis(ax, axr, color, ylim, ticks, minor, label, low=True, high=True):
    axr.set_xlim(ZOOM_START, ZOOM_END)
    axr.set_ylim(*ylim)
    axr.yaxis.set_major_locator(FixedLocator(ticks))
    axr.yaxis.set_minor_locator(MultipleLocator(minor))
    axr.tick_params(axis="y", which="both", direction="in", colors=color,
                    labelsize=14, width=1.0, pad=4)
    axr.tick_params(axis="y", which="major", length=11)
    axr.tick_params(axis="y", which="minor", length=5)
    for side in ("left", "top", "bottom"):
        axr.spines[side].set_visible(False)
    axr.spines["right"].set_color(color)
    axr.spines["right"].set_linewidth(1.2)
    ax.spines["right"].set_visible(False)
    ax.tick_params(axis="y", right=False)
    axr.set_ylabel(label, color=color, fontsize=14, va="center")
    axr.yaxis.set_label_coords(1.076, 0.5)
    pull_in_edge_labels(axr, low, high)
    # black curve above the coloured one
    ax.set_zorder(axr.get_zorder() + 1)
    ax.patch.set_visible(False)


def left_axis(ax, ylim, ticks, minor, label, tag, tag_y, label_x=-0.081,
              low=False, high=False):
    ax.set_ylim(*ylim)
    ax.yaxis.set_major_locator(FixedLocator(ticks))
    ax.yaxis.set_minor_locator(MultipleLocator(minor))
    ax.set_ylabel(label, fontsize=14, va="center")
    ax.yaxis.set_label_coords(label_x, 0.5)
    ax.text(0.022, tag_y, tag, transform=ax.transAxes, fontsize=21,
            color=TAGC, va="center", ha="left", zorder=5)
    if low or high:
        pull_in_edge_labels(ax, low, high)


# c) Bx / Vx
left_axis(ax_c, (-5.67, 3.33), [-4, -2, 0, 2], 0.5, "B$_x$ [nT]", "c)", 0.27)
right_axis(ax_c, axr_c, BLUE, (-432, -388.5), [-430, -420, -410, -400, -390],
           1, "V$_x$ [km/s]")
ax_c.set_title("WIND Data", fontsize=15, pad=2)
ax_c.annotate("08:39:14",
              xy=(dnum(EVENT1), -4.62),
              xytext=(dnum(ZOOM_START + pd.Timedelta(minutes=2.6)), -2.45),
              ha="center", va="center", fontsize=17, bbox=box,
              arrowprops=dict(arrowstyle="-", color="k", lw=0.8, relpos=(1, 0),
                              shrinkA=0, shrinkB=0), zorder=6)
ax_c.annotate("08:48:25",
              xy=(dnum(EVENT2), -4.1),
              xytext=(dnum(ZOOM_START + pd.Timedelta(minutes=15.33)), -3.42),
              ha="center", va="center", fontsize=17, bbox=box,
              arrowprops=dict(arrowstyle="-", color="k", lw=0.8, relpos=(0, 0.5),
                              shrinkA=0, shrinkB=0), zorder=6)

# d) By / Vy
left_axis(ax_d, (-6.85, 3.25), [-6, -4, -2, 0, 2], 0.5, "B$_y$ [nT]", "d)", 0.27)
right_axis(ax_d, axr_d, BLUE, (7.8, 52.5), [10, 20, 30, 40, 50], 1, "V$_y$ [km/s]")

# e) Bz / Vz
left_axis(ax_e, (-6.1, 3.9), [-4, -2, 0, 2], 0.5, "B$_z$ [nT]", "e)", 0.27)
right_axis(ax_e, axr_e, BLUE, (-50.2, -9.8), [-50, -40, -30, -20, -10], 1,
           "V$_z$ [km/s]")

# f) cone / clock angle
left_axis(ax_f, (-90, 90), [-50, 0, 50], 10, "B$_{Cone}$ [deg.]", "f)", 0.275,
          label_x=-0.097)
right_axis(ax_f, axr_f, RED, (0, 360), [0, 100, 200, 300], 10,
           "B$_{Clock}$ [deg.]", high=False)

# g) dynamic pressure
left_axis(ax_g, (1.0, 3.5), [1, 2, 3], 0.1, "P$_{Dyn.}$ [nPa]", "g)", 0.22,
          label_x=-0.05, low=True)
ax_g.tick_params(axis="y", which="both", right=True)

fig.text(5 / 958, 1 - 1166 / 1207, "hhmm\n2018 Nov 20", fontsize=10.5,
         va="top", ha="left", linespacing=0.9)

# dotted guide lines from the shaded interval to the zoomed panels
for t, xb in [(ZOOM_START, 0), (ZOOM_END, 1)]:
    con = ConnectionPatch(xyA=(dnum(t), 0), coordsA=ax_b.transData,
                          xyB=(xb, 1), coordsB=ax_c.transAxes,
                          color="k", lw=0.8, ls=(0, (1.5, 1.5)))
    fig.add_artist(con)

fig.savefig("out.png", dpi=100)
